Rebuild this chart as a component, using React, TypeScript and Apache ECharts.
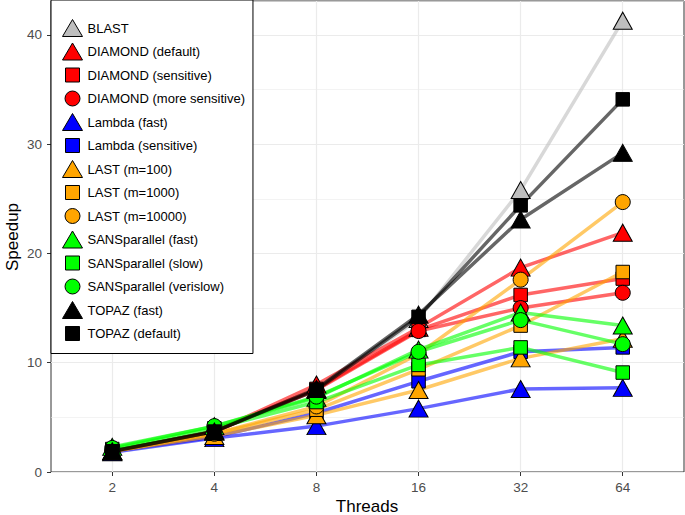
import { useEffect, useRef } from 'react';
import * as echarts from 'echarts';

const threads = ['2', '4', '8', '16', '32', '64'];

const seriesNames = [
  'BLAST',
  'DIAMOND (default)',
  'DIAMOND (sensitive)',
  'DIAMOND (more sensitive)',
  'Lambda (fast)',
  'Lambda (sensitive)',
  'LAST (m=100)',
  'LAST (m=1000)',
  'LAST (m=10000)',
  'SANSparallel (fast)',
  'SANSparallel (slow)',
  'SANSparallel (verislow)',
  'TOPAZ (fast)',
  'TOPAZ (default)',
];

const blast = [1.9, 3.8, 7.5, 14.0, 25.8, 41.3];
const diamondDefault = [1.9, 3.7, 8.0, 13.2, 18.7, 21.9];
const diamondSensitive = [1.9, 3.7, 7.6, 13.0, 16.2, 17.7];
const diamondMoreSensitive = [1.9, 3.7, 7.5, 12.9, 15.0, 16.4];
const lambdaFast = [1.8, 3.1, 4.2, 5.8, 7.6, 7.7];
const lambdaSensitive = [1.9, 3.2, 5.4, 8.3, 11.0, 11.4];
const last100 = [1.9, 3.3, 5.2, 7.5, 10.4, 12.2];
const last1000 = [1.9, 3.5, 5.7, 9.4, 13.4, 18.3];
const last10000 = [1.9, 3.5, 6.0, 10.8, 17.6, 24.7];
const sansFast = [2.3, 4.2, 6.8, 11.2, 14.6, 13.4];
const sansSlow = [2.1, 4.0, 6.4, 9.8, 11.4, 9.1];
const sansVerislow = [2.2, 4.2, 6.9, 11.0, 13.9, 11.7];
const topazFast = [1.9, 3.7, 7.6, 14.4, 23.1, 29.2];
const topazDefault = [1.9, 3.7, 7.5, 14.2, 24.4, 34.1];

const seriesValues = [
  blast, diamondDefault, diamondSensitive, diamondMoreSensitive,
  lambdaFast, lambdaSensitive, last100, last1000, last10000,
  sansFast, sansSlow, sansVerislow, topazFast, topazDefault,
];

const yTicks = [0, 10, 20, 30, 40];
const xTitle = 'Threads';
const yTitle = 'Speedup';

// styles
const colors = [
  '#BEBEBE', '#FF0000', '#FF0000', '#FF0000', '#0000FF', '#0000FF',
  '#FFA500', '#FFA500', '#FFA500', '#00FF00', '#00FF00', '#00FF00', '#000000', '#000000',
];
const shapes = [
  'triangle', 'triangle', 'rect', 'circle', 'triangle', 'rect',
  'triangle', 'rect', 'circle', 'triangle', 'rect', 'circle', 'triangle', 'rect',
];

const FONT = 'Liberation Sans, Arial, Helvetica, sans-serif';

const legendIcons: Record<string, string> = {
  triangle: 'path://M10,0L20,17L0,17Z',
  rect: 'path://M0,0M3,1.5L17,1.5L17,15.5L3,15.5ZM20,17',
  circle: 'path://M0,0M2.5,8.5A7.5,7.5,0,1,1,17.5,8.5A7.5,7.5,0,1,1,2.5,8.5ZM20,17',
};
const symbolSizes: Record<string, number | number[]> = {
  triangle: [19, 17],
  rect: 13.5,
  circle: 15,
};

export default function App() {
  const ref = useRef<HTMLDivElement>(null);
  useEffect(() => {
    document.body.style.margin = '0';
    const chart = echarts.init(ref.current!, null, { renderer: 'svg' });

    const lineSeries = seriesNames.map((name, k) => ({
      type: 'line',
      name,
      data: seriesValues[k].map((v, i) => [i + 1, v]),
      yAxisIndex: 0,
      symbol: 'none',
      showSymbol: false,
      silent: true,
      z: 2,
      lineStyle: { color: colors[k], width: 3.5, opacity: 0.6 },
      itemStyle: { color: colors[k] },
    }));
    const pointSeries = seriesNames.map((name, k) => ({
      type: 'scatter',
      name,
      data: seriesValues[k].map((v, i) => [i + 1, v]),
      yAxisIndex: 0,
      symbol: shapes[k],
      symbolSize: symbolSizes[shapes[k]],
      silent: true,
      z: 3,
      itemStyle: { color: colors[k], borderColor: '#000', borderWidth: 1, opacity: 1 },
    }));

    const option: any = {
      animation: false,
      backgroundColor: '#fff',
      textStyle: { fontFamily: FONT },
      grid: {
        left: 51, right: 1, top: 1, bottom: 43,
        show: true, borderColor: '#333', borderWidth: 1,
        containLabel: false,
      },
      graphic: [
        {
          type: 'text', x: 367, y: 506, silent: true,
          style: { text: xTitle, fontSize: 17, fill: '#000', fontFamily: FONT, align: 'center', verticalAlign: 'middle' },
        },
        {
          type: 'text', x: 12, y: 237, rotation: Math.PI / 2, silent: true,
          style: { text: yTitle, fontSize: 17, fill: '#000', fontFamily: FONT, align: 'center', verticalAlign: 'middle' },
        },
      ],
      legend: {
        orient: 'vertical',
        left: 51, top: 0,
        itemWidth: 20, itemHeight: 17, itemGap: 5.5,
        padding: [19, 8, 11, 11],
        borderColor: '#000', borderWidth: 1, backgroundColor: '#fff',
        selectedMode: false,
        textStyle: { fontSize: 13, color: '#000', fontFamily: FONT },
        data: seriesNames.map((name, k) => ({
          name,
          icon: legendIcons[shapes[k]],
          itemStyle: { color: colors[k], borderColor: '#000', borderWidth: 1 },
        })),
      },
      xAxis: {
        type: 'value',
        min: 0.4, max: 6.6, minInterval: 1, maxInterval: 1,
        axisLine: { show: false },
        axisTick: { show: true, length: 4, lineStyle: { color: '#333' }, customValues: [1, 2, 3, 4, 5, 6] },
        axisLabel: {
          customValues: [1, 2, 3, 4, 5, 6],
          formatter: (v: number) => (Math.abs(v - Math.round(v)) < 1e-6 ? threads[Math.round(v) - 1] ?? '' : ''),
          color: '#4D4D4D', fontSize: 13.5, margin: 8, fontFamily: FONT,
        },
        splitLine: { show: true, lineStyle: { color: '#EBEBEB', width: 1.2 } },
      },
      yAxis: [
        {
          type: 'value',
          min: 0, max: 43.1, interval: 10,
          axisLine: { show: false },
          axisTick: { show: true, length: 4, lineStyle: { color: '#333' }, customValues: yTicks },
          axisLabel: {
            customValues: yTicks,
            formatter: (v: number) => (v % 10 === 0 ? String(v) : ''),
            color: '#4D4D4D', fontSize: 13.5, margin: 9, fontFamily: FONT,
          },
          splitLine: { show: true, lineStyle: { color: '#EBEBEB', width: 1.2 } },
        },
        {
          type: 'value',
          min: 0, max: 43.1, interval: 5,
          axisLine: { show: false },
          axisTick: { show: false },
          axisLabel: { show: false },
          splitLine: { show: true, lineStyle: { color: '#EBEBEB', width: 0.6 } },
        },
      ],
      series: [...pointSeries, ...lineSeries],
    };
    chart.setOption(option);
    return () => chart.dispose();
  }, []);
  return (
    <div
      ref={ref}
      style={{ width: 685, height: 515, position: 'absolute', left: 0, top: 0 }}
    />
  );
}
